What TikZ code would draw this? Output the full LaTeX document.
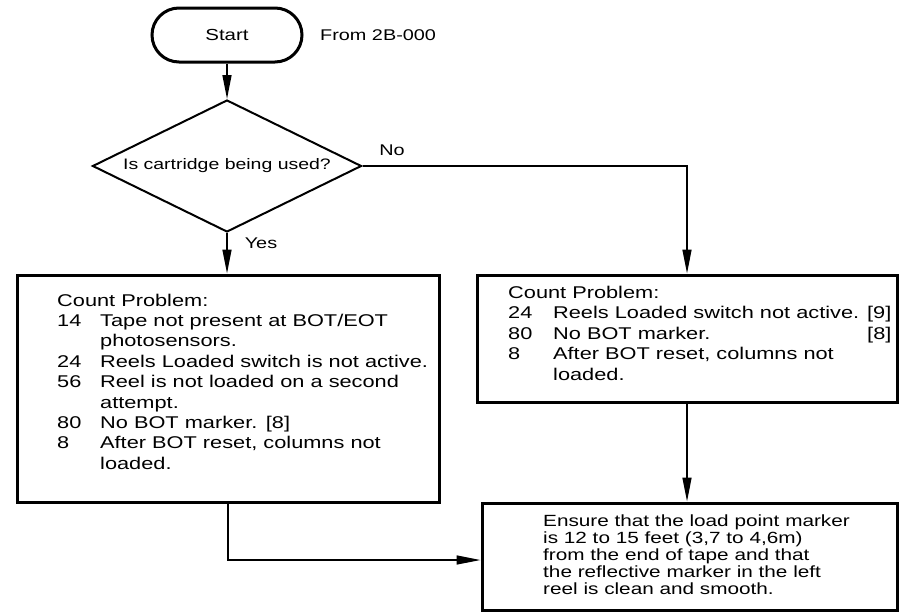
\documentclass[tikz,border=0pt]{standalone}
\usepackage{fontspec}
\setmainfont[FakeStretch=1.28]{Liberation Sans}
\usetikzlibrary{shapes.geometric,arrows.meta}
\begin{document}
\begin{tikzpicture}[x=1pt,y=-1pt,
 boxstyle/.style={draw,line width=3pt,rectangle,inner sep=0pt},
 conn/.style={line width=1.6pt,-{Triangle[length=24pt,width=9pt]}},
 txt/.style={inner sep=0pt,anchor=north west,align=left},
 lbl/.style={inner sep=0pt,font=\fontsize{15.5}{18}\selectfont}
]
\useasboundingbox (0,0) rectangle (899,613);
% start terminal
\node[draw,line width=3pt,rounded corners=27pt,minimum width=150pt,minimum height=54pt,inner sep=0pt,font=\fontsize{16}{19}\selectfont] (start) at (227,35) {Start};
\node[lbl,anchor=west] (from) at (320,35) {From 2B-000};
% decision
\node[draw,line width=2pt,diamond,aspect=2.04,inner sep=0pt,minimum width=269pt,minimum height=132pt,font=\fontsize{15.2}{18}\selectfont] (dia) at (227,166) {Is cartridge being used?};
% boxes
\node[boxstyle,minimum width=422pt,minimum height=227pt] (lbox) at (228,388.5) {};
\node[boxstyle,minimum width=420pt,minimum height=127pt] (rbox) at (687,338.5) {};
\node[boxstyle,minimum width=415pt,minimum height=107pt] (bbox) at (689.5,556.5) {};
% texts
\node[txt,font=\fontsize{17}{20.4}\selectfont] (ltext) at (57,291.7) {%
\begin{tabular}{@{}p{43pt}@{}l@{}}
\multicolumn{2}{@{}l@{}}{Count Problem:}\\
14 & Tape not present at BOT/EOT\\
 & photosensors.\\
24 & Reels Loaded switch is not active.\\
56 & Reel is not loaded on a second\\
 & attempt.\\
80 & No BOT marker.\enspace[8]\\
8 & After BOT reset, columns not\\
 & loaded.
\end{tabular}};
\node[txt,font=\fontsize{17}{20.4}\selectfont] (rtext) at (508,284) {%
\begin{tabular}{@{}p{45pt}@{}l@{\hspace{8pt}}r@{}}
\multicolumn{3}{@{}l@{}}{Count Problem:}\\
24 & Reels Loaded switch not active. & [9]\\
80 & No BOT marker. & [8]\\
8 & After BOT reset, columns not & \\
 & loaded. &
\end{tabular}};
\node[txt,font=\fontsize{16.2}{16.8}\selectfont] (btext) at (543,515) {%
\begin{tabular}{@{}l@{}}
Ensure that the load point marker\\
is 12 to 15 feet (3,7 to 4,6m)\\
from the end of tape and that\\
the reflective marker in the left\\
reel is clean and smooth.
\end{tabular}};
% labels
\node[lbl] (no) at (392,150) {No};
\node[lbl] (yes) at (261,243) {Yes};
% connectors
\draw[conn] (start.south) -- (dia.north);
\draw[conn] (dia.east) -| (rbox.north);
\draw[conn] (dia.south) -- (dia.south |- lbox.north);
\draw[conn] (rbox.south) -- (rbox.south |- bbox.north);
\coordinate (lturn) at ([yshift=-3.5pt]bbox.west);
\draw[conn] (lbox.south) |- (lturn);
\end{tikzpicture}
\end{document}
